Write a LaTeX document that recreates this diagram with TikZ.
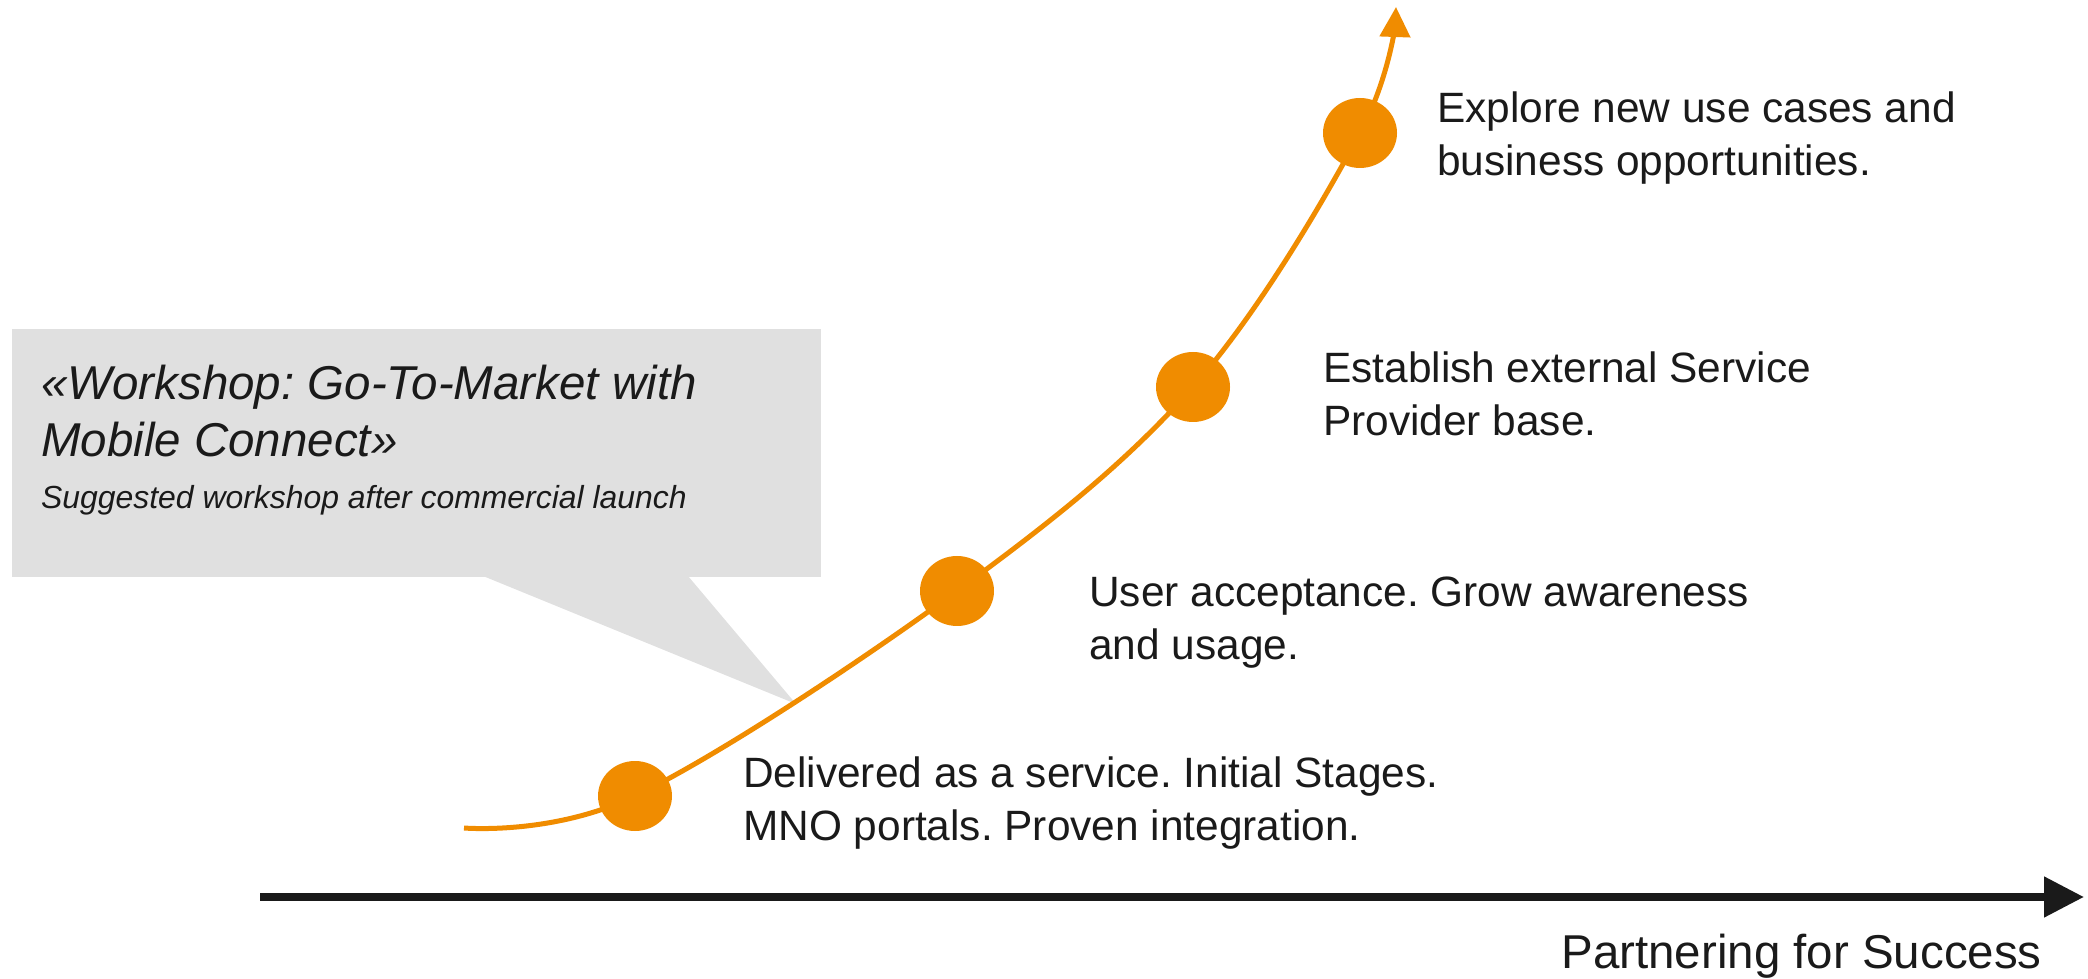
\documentclass[tikz,border=0pt]{standalone}
\usepackage{fontspec}
\setmainfont{Liberation Sans}
\usetikzlibrary{arrows.meta,shapes.geometric}
\definecolor{orng}{RGB}{240,140,0}
\definecolor{ink}{RGB}{26,26,26}
\definecolor{calloutgrey}{RGB}{224,224,224}
\frenchspacing
\begin{document}
\begin{tikzpicture}[x=1pt,y=1pt,
  lbl/.style={anchor=base west, inner sep=0pt, text=ink, font=\fontsize{42.4}{53}\selectfont},
  ttl/.style={anchor=base west, inner sep=0pt, text=ink, font=\fontsize{47.5}{57}\selectfont\itshape},
  subttl/.style={anchor=base west, inner sep=0pt, text=ink, font=\fontsize{31.9}{38}\selectfont\itshape},
  dot/.style={ellipse, fill=orng, minimum width=74pt, minimum height=70pt, inner sep=0pt},
  growth/.style={draw=orng, line width=5pt, -{Triangle[length=30pt,width=30pt]}},
  axisline/.style={draw=ink, line width=8pt, -{Triangle[length=40pt,width=39pt]}},
]
\useasboundingbox (0,0) rectangle (2088,978);
% callout box
\node[fill=calloutgrey, minimum width=809pt, minimum height=248pt, inner sep=0pt, anchor=south west] (box) at (12,401) {};
\coordinate (tip) at (796,274);
\fill[calloutgrey] ([xshift=471pt,yshift=1pt]box.south west) -- (tip) -- ([xshift=676pt,yshift=1pt]box.south west) -- cycle;
\node[ttl] (t0a) at (41,578) {«Workshop: Go-To-Market with};
\node[ttl] (t0b) at (41,521) {Mobile Connect»};
\node[subttl] (t0c) at (41,469) {Suggested workshop after commercial launch};
% growth curve
\coordinate (s) at (464,150);
\coordinate (p1) at (635,182);
\coordinate (p2) at (957,387);
\coordinate (p3) at (1193,591);
\coordinate (p4) at (1360,845);
\coordinate (e) at (1396,971);
\draw[growth] plot[smooth, tension=0.6] coordinates {(s) (p1) (p2) (p3) (p4) (e)};
\node[dot] (c1) at (p1) {};
\node[dot] (c2) at (p2) {};
\node[dot] (c3) at (p3) {};
\node[dot] (c4) at (p4) {};
% labels
\node[lbl] (t4a) at (1437,855) {Explore new use cases and};
\node[lbl] (t4b) at (1437,802) {business opportunities.};
\node[lbl] (t3a) at (1323,595) {Establish external Service};
\node[lbl] (t3b) at (1323,542) {Provider base.};
\node[lbl] (t2a) at (1089,371) {User acceptance. Grow awareness};
\node[lbl] (t2b) at (1089,318) {and usage.};
\node[lbl] (t1a) at (743,191) {Delivered as a service. Initial Stages.};
\node[lbl] (t1b) at (743,138) {MNO portals. Proven integration.};
% axis
\coordinate (a0) at (260,81);
\coordinate (a1) at (2084,81);
\draw[axisline] (a0) -- (a1);
\node[anchor=base east, inner sep=0pt, text=ink, font=\fontsize{47.5}{57}\selectfont] (ax) at (2042,10) {Partnering for Success};
\end{tikzpicture}
\end{document}
